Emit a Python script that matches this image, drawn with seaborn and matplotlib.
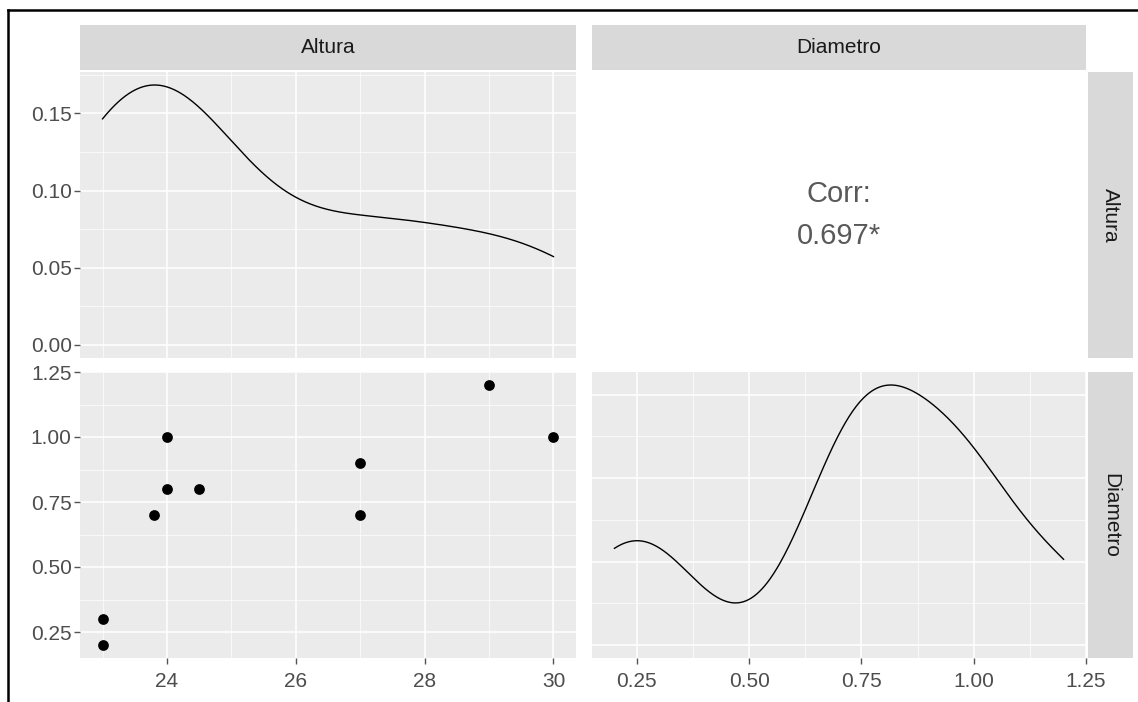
import matplotlib
matplotlib.use("Agg")
import matplotlib.pyplot as plt
from matplotlib.ticker import MultipleLocator, FormatStrFormatter
from matplotlib.lines import Line2D
import numpy as np
import pandas as pd
import seaborn as sns

# data
altura = [23, 23, 23.8, 24, 24, 24.5, 27, 27, 29, 30]
diametro = [0.2, 0.3, 0.7, 0.8, 1.0, 0.8, 0.7, 0.9, 1.2, 1.0]
variables = ["Altura", "Diametro"]

df = pd.DataFrame({"Altura": altura, "Diametro": diametro})

plt.rcParams["font.family"] = ["Liberation Sans", "DejaVu Sans"]

W, H = 1138, 702
fig = plt.figure(figsize=(W / 100, H / 100), dpi=100)
fig.patch.set_facecolor("white")

def px(l, t, r, b):
    return [l / W, 1 - b / H, (r - l) / W, (b - t) / H]

panel_bg = "#EBEBEB"
strip_bg = "#D9D9D9"
tick_col = "#4D4D4D"

def nrd0_factor(v):
    # R's bw.nrd0, turned into a factor of the sample sd for gaussian_kde
    v = np.asarray(v, dtype=float)
    sd = v.std(ddof=1)
    iqr = np.subtract(*np.percentile(v, [75, 25]))
    bw = 0.9 * min(sd, iqr / 1.34) * len(v) ** -0.2
    return bw / sd

def style_panel(ax):
    ax.set_facecolor(panel_bg)
    for s in ax.spines.values():
        s.set_visible(False)
    ax.grid(which="major", color="white", linewidth=1.1)
    ax.grid(which="minor", color="white", linewidth=0.5)
    ax.set_axisbelow(True)
    ax.tick_params(which="both", length=0, labelsize=15, colors=tick_col)
    ax.tick_params(which="major", length=4, width=1, color="#555555")
    ax.set_xlabel("")
    ax.set_ylabel("")

ax_tl = fig.add_axes(px(80, 72, 576, 358))
ax_tr = fig.add_axes(px(592, 72, 1086, 358))
ax_bl = fig.add_axes(px(80, 372, 576, 658))
ax_br = fig.add_axes(px(592, 372, 1086, 658))

# top left: density of Altura
sns.kdeplot(x=df["Altura"], ax=ax_tl, bw_method=nrd0_factor(altura), cut=0,
            gridsize=512, color="black", linewidth=1.0)
dmax = ax_tl.lines[-1].get_ydata().max()
style_panel(ax_tl)
ax_tl.set_xlim(22.65, 30.35)
ax_tl.set_ylim(-0.05 * dmax, 1.05 * dmax)
ax_tl.xaxis.set_major_locator(MultipleLocator(2))
ax_tl.xaxis.set_minor_locator(MultipleLocator(1))
ax_tl.yaxis.set_major_locator(MultipleLocator(0.05))
ax_tl.yaxis.set_minor_locator(MultipleLocator(0.025))
ax_tl.yaxis.set_major_formatter(FormatStrFormatter("%.2f"))
ax_tl.tick_params(axis="x", which="both", length=0, labelbottom=False)

# top right: correlation text
ax_tr.set_facecolor("white")
for s in ax_tr.spines.values():
    s.set_visible(False)
ax_tr.set_xticks([])
ax_tr.set_yticks([])
r = np.corrcoef(altura, diametro)[0, 1]
ax_tr.text(0.5, 0.5, f"Corr:\n{r:.3f}*", transform=ax_tr.transAxes,
           ha="center", va="center", fontsize=21, color="#595959",
           linespacing=1.65)

# bottom left: scatter
sns.scatterplot(data=df, x="Altura", y="Diametro", ax=ax_bl, color="black",
                s=60, edgecolor="black", linewidth=0)
style_panel(ax_bl)
ax_bl.set_xlim(22.65, 30.35)
ax_bl.set_ylim(0.15, 1.25)
ax_bl.xaxis.set_major_locator(MultipleLocator(2))
ax_bl.xaxis.set_minor_locator(MultipleLocator(1))
ax_bl.yaxis.set_major_locator(MultipleLocator(0.25))
ax_bl.yaxis.set_minor_locator(MultipleLocator(0.125))
ax_bl.yaxis.set_major_formatter(FormatStrFormatter("%.2f"))
ax_bl.xaxis.set_major_formatter(FormatStrFormatter("%d"))

# bottom right: density of Diametro
sns.kdeplot(x=df["Diametro"], ax=ax_br, bw_method=nrd0_factor(diametro), cut=0,
            gridsize=512, color="black", linewidth=1.0)
dmax2 = ax_br.lines[-1].get_ydata().max()
style_panel(ax_br)
ax_br.set_xlim(0.15, 1.25)
ax_br.set_ylim(-0.05 * dmax2, 1.05 * dmax2)
ax_br.xaxis.set_major_locator(MultipleLocator(0.25))
ax_br.xaxis.set_minor_locator(MultipleLocator(0.125))
ax_br.yaxis.set_major_locator(MultipleLocator(0.5))
ax_br.yaxis.set_minor_locator(MultipleLocator(0.25))
ax_br.xaxis.set_major_formatter(FormatStrFormatter("%.2f"))
ax_br.tick_params(axis="y", which="both", length=0, labelleft=False)

for ax in (ax_tl, ax_bl):
    ax.tick_params(axis="y", pad=2)
for ax in (ax_bl, ax_br):
    ax.tick_params(axis="x", pad=6)

# strips
strip_boxes = [(80, 25, 576, 70), (592, 25, 1086, 70)]
for (l, t, rr, b), name in zip(strip_boxes, variables):
    sa = fig.add_axes(px(l, t, rr, b))
    sa.set_facecolor(strip_bg)
    sa.set_xticks([]); sa.set_yticks([])
    for s in sa.spines.values():
        s.set_visible(False)
    sa.text(0.5, 0.5, name, ha="center", va="center", fontsize=15,
            color="#1A1A1A", transform=sa.transAxes)

side_boxes = [(1088, 72, 1133, 358), (1088, 372, 1133, 658)]
for (l, t, rr, b), name in zip(side_boxes, variables):
    sa = fig.add_axes(px(l, t, rr, b))
    sa.set_facecolor(strip_bg)
    sa.set_xticks([]); sa.set_yticks([])
    for s in sa.spines.values():
        s.set_visible(False)
    sa.text(0.5, 0.5, name, ha="center", va="center", fontsize=15,
            color="#1A1A1A", rotation=-90, transform=sa.transAxes)

# black frame of the scanned figure
fig.add_artist(Line2D([8 / W, 1], [1 - 10 / H, 1 - 10 / H], color="black",
                      linewidth=1.8, transform=fig.transFigure))
fig.add_artist(Line2D([8 / W, 8 / W], [0, 1 - 10 / H], color="black",
                      linewidth=1.8, transform=fig.transFigure))

fig.savefig("out.png", dpi=100)
